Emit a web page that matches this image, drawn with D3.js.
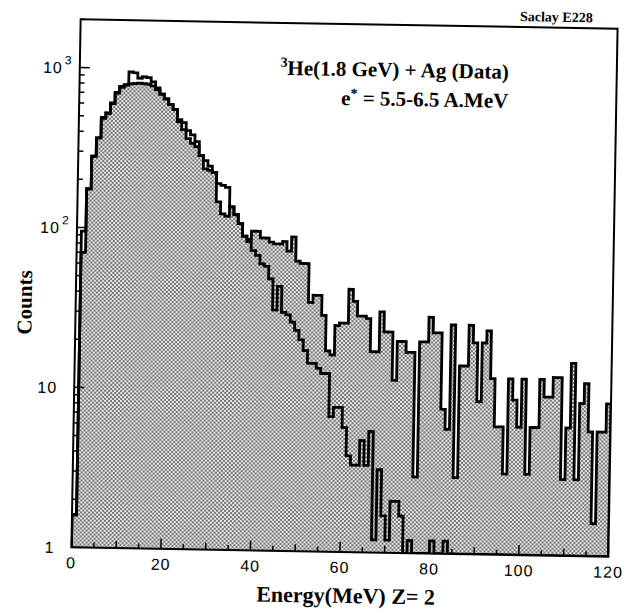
<!DOCTYPE html>
<html>
<head>
<meta charset="utf-8">
<script src="https://cdn.jsdelivr.net/npm/d3@7"></script>
<style>
  body { margin: 0; background: #fff; }
  svg { display: block; }
  .serif { font-family: "Liberation Serif", "Times New Roman", serif; font-weight: bold; fill: #000; }
  .tick-label { font-family: "Liberation Sans", Arial, sans-serif; font-size: 16px; fill: #000; }
</style>
</head>
<body>
<svg id="chart" width="627" height="610"></svg>
<script>
// ---- data (1 MeV bins, 0..120 MeV) ----
const xTicks = [0, 20, 40, 60, 80, 100, 120];
const yTicks = [1, 10, 100, 1000];

// shaded histogram (the one that keeps going out to 120 MeV)
const countsFilled = [
  1.6, 70, 175, 280, 365, 485, 520, 600, 700, 760,
  785, 800, 805, 810, 805, 800, 780, 740, 695, 650,
  600, 560, 470, 420, 370, 345, 330, 290, 240, 235,
  228, 150, 126, 122, 140, 125, 110, 92, 88, 99,
  99, 90, 90, 85, 83, 83, 86, 75, 92, 65,
  63, 63, 36, 40, 40, 30, 18, 17, 26, 27,
  27, 44, 37, 30, 30, 29, 18, 18, 32, 24,
  24, 12, 21, 21, 18, 18, 3, 21, 21, 30,
  24, 24, 8, 6, 27, 3, 15, 15, 27, 21,
  9, 21, 25, 12.6, 6.3, 6.3, 3.2, 12.6, 9.3, 6.3,
  12.6, 3.2, 6.3, 6.3, 12.6, 9.8, 9.8, 13, 13, 3,
  6.3, 16, 3, 9, 12, 6, 1.6, 6, 6, 9
];

// open histogram (higher at the peak, dies out near 75 MeV)
const countsOutline = [
  1.6, 95, 175, 280, 365, 490, 525, 605, 705, 770,
  790, 950, 940, 870, 890, 880, 830, 760, 695, 650,
  600, 560, 485, 465, 415, 390, 355, 290, 270, 250,
  228, 195, 190, 185, 140, 125, 110, 92, 85, 75,
  70, 62, 60, 50, 32, 45, 31, 30, 27, 24,
  21, 18, 15, 15, 14, 13, 13, 7, 8, 8,
  6, 4, 3.5, 3.5, 5, 3.5, 5.7, 1.2, 3.3, 1.7,
  1.2, 2.1, 2.1, 1.7, 0, 1.2, 0, 0, 0, 0,
  1.2, 0, 0, 1.2, 0, 0, 0, 0, 0, 0,
  0, 0, 0, 0, 0, 0, 0, 0, 0, 0,
  0, 0, 0, 0, 0, 0, 0, 0, 0, 0,
  0, 0, 0, 0, 0, 0, 0, 0, 0, 0
];

const svg = d3.select('#chart');

// plot frame before the scan tilt
const plotL = 76, plotT = 24, plotW = 537, plotH = 528;
const plotR = plotL + plotW, plotB = plotT + plotH;

const x = d3.scaleLinear().domain([0, 120]).range([plotL, plotR]);
const y = d3.scaleLog().domain([1, 2000]).range([plotB, plotT]);

// stipple fill like the printed halftone
const defs = svg.append('defs');
const pat = defs.append('pattern')
  .attr('id', 'stipple')
  .attr('width', 4).attr('height', 4)
  .attr('patternUnits', 'userSpaceOnUse');
pat.append('rect').attr('width', 4).attr('height', 4).attr('fill', '#e6e6e6');
pat.append('rect').attr('x', 0).attr('y', 0).attr('width', 2).attr('height', 2).attr('fill', '#777');
pat.append('rect').attr('x', 2).attr('y', 2).attr('width', 2).attr('height', 2).attr('fill', '#777');

defs.append('clipPath').attr('id', 'plotClip')
  .append('rect')
  .attr('x', plotL).attr('y', plotT)
  .attr('width', plotW).attr('height', plotH);

// the whole scan is turned about a degree clockwise
const g = svg.append('g').attr('transform', 'rotate(1, 344.75, 287.75)');

function toPoints(counts) {
  const pts = counts.map((v, i) => ({ e: i, v: v }));
  pts.push({ e: counts.length, v: counts[counts.length - 1] });
  return pts;
}

const yv = v => y(Math.max(v, 1));

const area = d3.area()
  .x(d => x(d.e))
  .y0(y(1))
  .y1(d => yv(d.v))
  .curve(d3.curveStepAfter);

const line = d3.line()
  .x(d => x(d.e))
  .y(d => yv(d.v))
  .curve(d3.curveStepAfter);

const hist = g.append('g').attr('clip-path', 'url(#plotClip)');

const filledPts = toPoints(countsFilled);
hist.append('path')
  .datum(filledPts)
  .attr('d', area)
  .attr('fill', 'url(#stipple)');

function outline(pts) {
  return [{ e: 0, v: 1 }, ...pts, { e: pts[pts.length - 1].e, v: 1 }];
}

hist.append('path')
  .datum(outline(filledPts))
  .attr('d', line)
  .attr('fill', 'none')
  .attr('stroke', '#000')
  .attr('stroke-width', 2.8)
  .attr('stroke-linejoin', 'miter');

hist.append('path')
  .datum(outline(toPoints(countsOutline)))
  .attr('d', line)
  .attr('fill', 'none')
  .attr('stroke', '#000')
  .attr('stroke-width', 2.8)
  .attr('stroke-linejoin', 'miter');

// frame
g.append('rect')
  .attr('x', plotL).attr('y', plotT)
  .attr('width', plotW).attr('height', plotH)
  .attr('fill', 'none')
  .attr('stroke', '#000')
  .attr('stroke-width', 2);

// x ticks: every 5 MeV, longer at the labelled ones
const xt = g.append('g');
d3.range(0, 121, 5).forEach(v => {
  const len = v % 20 === 0 ? 10 : (v % 10 === 0 ? 7 : 5);
  xt.append('line')
    .attr('x1', x(v)).attr('x2', x(v))
    .attr('y1', plotB).attr('y2', plotB - len)
    .attr('stroke', '#000').attr('stroke-width', 1.5);
});
xTicks.forEach(v => {
  xt.append('text')
    .attr('class', 'tick-label')
    .attr('x', x(v)).attr('y', plotB + 21)
    .attr('text-anchor', 'middle')
    .attr('letter-spacing', 1)
    .text(v);
});

// y ticks: decades plus 2..9 minors
const yt = g.append('g');
yTicks.forEach(d => {
  yt.append('line')
    .attr('x1', plotL).attr('x2', plotL + 10)
    .attr('y1', y(d)).attr('y2', y(d))
    .attr('stroke', '#000').attr('stroke-width', 1.5);
  for (let k = 2; k <= 9; k++) {
    const v = k * d;
    if (v > 2000) break;
    yt.append('line')
      .attr('x1', plotL).attr('x2', plotL + 5)
      .attr('y1', y(v)).attr('y2', y(v))
      .attr('stroke', '#000').attr('stroke-width', 1.5);
  }
});
yTicks.forEach(d => {
  const exp = Math.round(Math.log10(d));
  const t = yt.append('text')
    .attr('class', 'tick-label')
    .attr('x', plotL - 17).attr('y', y(d) + 6)
    .attr('text-anchor', 'end')
    .attr('letter-spacing', 1);
  if (exp <= 1) {
    t.text(d);
  } else {
    t.text('10');
    yt.append('text')
      .attr('class', 'tick-label')
      .attr('x', plotL - 15).attr('y', y(d) - 3)
      .style('font-size', '12px')
      .text(exp);
  }
});

// texts
g.append('text')
  .attr('class', 'serif')
  .attr('x', 588).attr('y', 18)
  .attr('text-anchor', 'end')
  .style('font-size', '14px')
  .text('Saclay E228');

const t1 = g.append('text')
  .attr('class', 'serif')
  .attr('x', 505).attr('y', 76)
  .attr('text-anchor', 'end')
  .style('font-size', '21px');
t1.append('tspan').attr('dy', -8).style('font-size', '14px').text('3');
t1.append('tspan').attr('dy', 8).text('He(1.8 GeV) + Ag (Data)');

const t2 = g.append('text')
  .attr('class', 'serif')
  .attr('x', 505).attr('y', 105)
  .attr('text-anchor', 'end')
  .style('font-size', '21px');
t2.append('tspan').text('e');
t2.append('tspan').attr('dy', -7).style('font-size', '14px').text('*');
t2.append('tspan').attr('dy', 7).text(' = 5.5-6.5 A.MeV');

g.append('text')
  .attr('class', 'serif')
  .attr('transform', 'translate(32, 308) rotate(-90)')
  .attr('text-anchor', 'middle')
  .style('font-size', '21px')
  .text('Counts');

g.append('text')
  .attr('class', 'serif')
  .attr('x', 351).attr('y', 603)
  .attr('text-anchor', 'middle')
  .style('font-size', '22px')
  .text('Energy(MeV) Z= 2');
</script>
</body>
</html>
